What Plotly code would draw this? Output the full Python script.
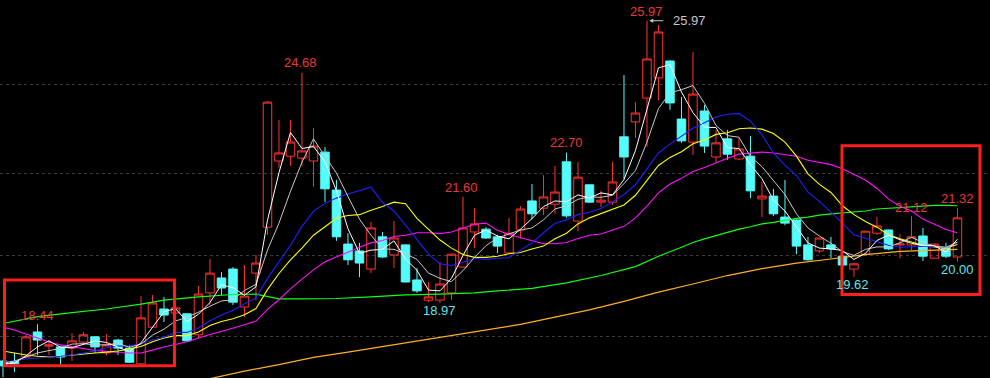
import plotly.graph_objects as go

# ---- data ----
idx = list(range(84))

open_ = [17.53, 17.52, 17.63, 18.25, 17.90, 17.88, 17.85, 18.00, 18.13, 17.73,
         18.05, 17.85, 17.46, 18.37, 18.82, 18.72, 18.70, 18.18, 19.22, 19.59,
         19.81, 18.87, 19.71, 20.85, 22.49, 22.61, 22.56, 22.49, 22.71, 21.77,
         20.43, 20.26, 19.81, 20.61, 20.16, 20.41, 19.54, 19.04, 19.04, 19.22,
         19.86, 20.73, 20.80, 20.61, 20.21, 20.78, 21.50, 21.32, 21.42, 22.47,
         21.00, 21.90, 21.47, 21.47, 23.09, 23.46, 24.05, 24.55, 24.97, 23.53,
         22.96, 23.73, 22.59, 23.04, 22.54, 22.61, 21.55, 21.62, 21.10, 21.03,
         20.41, 20.26, 20.41, 20.13, 19.81, 20.18, 20.70, 20.78, 20.41, 20.41,
         20.63, 20.08, 20.33, 20.11]
high = [17.56, 17.73, 18.18, 18.44, 18.05, 17.90, 18.22, 18.25, 18.15, 18.20,
        18.08, 17.93, 19.14, 19.17, 19.12, 18.89, 18.72, 19.39, 20.06, 19.74,
        19.86, 19.91, 20.16, 23.98, 23.51, 23.51, 24.68, 23.31, 22.84, 22.02,
        20.70, 20.46, 20.98, 20.73, 21.00, 20.42, 19.84, 19.49, 19.99, 20.19,
        21.60, 21.32, 20.85, 20.66, 21.08, 21.37, 21.92, 22.14, 22.37, 22.70,
        22.47, 21.91, 21.75, 22.47, 24.62, 23.95, 25.97, 25.86, 24.99, 24.08,
        25.19, 23.88, 23.26, 23.26, 23.06, 23.11, 21.97, 21.80, 22.02, 21.04,
        20.61, 20.59, 20.61, 20.14, 19.97, 20.76, 21.10, 20.79, 20.68, 21.12,
        20.83, 20.44, 20.46, 21.32]
low = [17.13, 17.26, 17.60, 17.68, 17.68, 17.43, 17.53, 17.93, 17.73, 17.68,
       17.68, 17.48, 17.41, 18.35, 18.50, 18.67, 18.00, 18.10, 18.92, 19.17,
       18.92, 18.62, 19.04, 20.66, 22.32, 22.37, 22.37, 21.85, 21.47, 20.51,
       19.91, 19.61, 19.71, 20.08, 19.84, 19.48, 19.22, 18.99, 18.97, 19.04,
       19.85, 20.33, 20.56, 20.21, 20.19, 20.56, 21.05, 21.15, 21.18, 21.08,
       20.75, 21.45, 21.35, 21.40, 22.04, 23.06, 22.84, 24.00, 23.76, 22.94,
       22.64, 22.69, 22.44, 22.52, 22.52, 21.57, 21.10, 21.13, 20.90, 20.18,
       20.02, 20.21, 20.08, 19.90, 19.62, 20.16, 20.66, 20.28, 20.08, 20.28,
       20.01, 20.07, 20.08, 20.00]
close = [17.41, 17.46, 18.13, 18.05, 17.93, 17.63, 18.03, 18.18, 17.88, 17.93,
         17.85, 17.50, 18.60, 18.97, 18.67, 18.85, 18.03, 19.19, 19.71, 19.34,
         18.99, 19.14, 19.96, 23.95, 22.69, 22.96, 22.74, 22.86, 21.80, 20.61,
         20.04, 19.96, 20.83, 20.11, 20.58, 19.49, 19.27, 19.12, 19.44, 20.18,
         20.83, 20.93, 20.58, 20.38, 20.70, 21.30, 21.18, 21.60, 21.72, 21.13,
         22.09, 21.47, 21.52, 21.97, 22.59, 23.68, 25.02, 25.69, 23.93, 22.99,
         24.15, 22.86, 22.94, 22.66, 22.79, 21.75, 21.62, 21.18, 20.95, 20.38,
         20.04, 20.58, 20.31, 19.91, 19.94, 20.75, 20.88, 20.31, 20.43, 20.61,
         20.13, 20.43, 20.13, 21.08]

ma_white = [17.46, 17.48, 17.66, 17.88, 18.03, 17.87, 17.86, 17.94, 18.03, 17.99,
            17.88, 17.76, 17.98, 18.36, 18.75, 18.83, 18.51, 18.69, 18.98, 19.42,
            19.35, 19.16, 19.37, 21.02, 22.20, 23.20, 22.80, 22.85, 22.47, 21.75,
            20.81, 20.20, 20.28, 20.30, 20.51, 20.06, 19.78, 19.29, 19.27, 19.58,
            20.15, 20.65, 20.78, 20.63, 20.56, 20.80, 21.06, 21.36, 21.50, 21.48,
            21.65, 21.57, 21.70, 21.65, 22.03, 22.75, 23.76, 24.80, 24.88, 24.20,
            23.69, 23.33, 23.32, 22.82, 22.80, 22.40, 22.05, 21.52, 21.25, 20.84,
            20.46, 20.33, 20.31, 20.27, 20.05, 20.20, 20.52, 20.65, 20.54, 20.45,
            20.39, 20.39, 20.23, 20.55]
ma_gray = [17.48, 17.53, 17.63, 17.73, 17.79, 17.84, 17.95, 17.96, 17.93, 17.93,
           17.97, 17.87, 17.95, 18.17, 18.32, 18.52, 18.62, 18.74, 18.89, 19.02,
           19.05, 19.28, 19.43, 20.28, 20.95, 21.74, 22.46, 23.04, 22.61, 22.19,
           21.61, 21.05, 20.65, 20.31, 20.30, 20.19, 20.05, 19.71, 19.58, 19.50,
           19.77, 20.10, 20.39, 20.58, 20.68, 20.78, 20.83, 21.03, 21.30, 21.38,
           21.54, 21.60, 21.59, 21.64, 21.93, 22.25, 22.96, 23.79, 24.18, 24.26,
           24.36, 23.92, 23.37, 23.12, 23.08, 22.60, 22.35, 22.00, 21.66, 21.18,
           20.83, 20.63, 20.45, 20.24, 20.15, 20.30, 20.36, 20.36, 20.46, 20.60,
           20.47, 20.38, 20.35, 20.48]
ma_blue = [17.51, 17.53, 17.58, 17.60, 17.63, 17.65, 17.68, 17.73, 17.78, 17.86,
           17.90, 17.91, 17.96, 18.05, 18.12, 18.24, 18.24, 18.35, 18.53, 18.67,
           18.79, 18.95, 19.09, 19.58, 19.99, 20.40, 20.87, 21.24, 21.44, 21.57,
           21.67, 21.76, 21.84, 21.46, 21.25, 20.90, 20.55, 20.18, 19.94, 19.90,
           19.98, 20.08, 20.05, 20.08, 20.09, 20.27, 20.46, 20.71, 20.94, 21.03,
           21.16, 21.22, 21.31, 21.47, 21.66, 21.90, 22.28, 22.69, 22.91, 23.10,
           23.30, 23.44, 23.58, 23.65, 23.67, 23.48, 23.14, 22.69, 22.39, 22.13,
           21.72, 21.49, 21.23, 20.95, 20.66, 20.57, 20.49, 20.40, 20.35, 20.37,
           20.38, 20.37, 20.35, 20.47]
ma_yellow = [17.78, 17.73, 17.68, 17.65, 17.63, 17.65, 17.68, 17.70, 17.73, 17.75,
             17.78, 17.83, 17.89, 18.01, 18.10, 18.16, 18.16, 18.25, 18.41, 18.51,
             18.58, 18.68, 18.83, 19.30, 19.70, 20.04, 20.33, 20.65, 20.87, 21.07,
             21.14, 21.16, 21.27, 21.36, 21.47, 21.43, 21.07, 20.80, 20.53, 20.33,
             20.17, 20.10, 20.10, 20.13, 20.19, 20.22, 20.31, 20.38, 20.56, 20.70,
             20.93, 21.08, 21.19, 21.28, 21.40, 21.64, 22.00, 22.38, 22.58, 22.72,
             22.92, 23.01, 23.15, 23.19, 23.29, 23.31, 23.28, 23.17, 22.96, 22.61,
             22.17, 21.91, 21.71, 21.38, 21.16, 20.99, 20.85, 20.66, 20.56, 20.48,
             20.40, 20.36, 20.34, 20.42]
ma_magenta = [18.37, 18.30, 18.20, 18.10, 18.00, 17.93, 17.88, 17.83, 17.79, 17.77,
              17.74, 17.73, 17.73, 17.80, 17.88, 17.94, 18.01, 18.10, 18.19, 18.26,
              18.34, 18.43, 18.52, 18.81, 19.05, 19.32, 19.56, 19.79, 19.99, 20.12,
              20.23, 20.35, 20.46, 20.52, 20.62, 20.65, 20.71, 20.71, 20.69, 20.73,
              20.83, 20.92, 20.95, 20.77, 20.67, 20.59, 20.51, 20.44, 20.44, 20.47,
              20.57, 20.65, 20.68, 20.77, 20.87, 21.08, 21.37, 21.70, 21.92, 22.06,
              22.23, 22.33, 22.45, 22.56, 22.66, 22.69, 22.71, 22.69, 22.65, 22.61,
              22.51, 22.46, 22.40, 22.30, 22.17, 22.02, 21.81, 21.55, 21.37, 21.25,
              21.05, 20.93, 20.79, 20.71]
green_idx = [0, 3, 6, 9, 12, 14, 17, 20, 22, 24, 26, 29, 32, 35, 38, 41, 43, 46, 49,
             52, 55, 57, 59, 60, 61, 62, 63, 64, 65, 66, 67, 68, 69, 70, 71, 72, 73,
             74, 75, 76, 77, 78, 79, 80, 81, 82, 83]
ma_green = [18.46, 18.63, 18.73, 18.82, 18.94, 19.04, 19.12, 19.18, 19.19, 19.07,
            19.07, 19.08, 19.12, 19.17, 19.19, 19.22, 19.27, 19.33, 19.47, 19.65,
            19.87, 20.13, 20.35, 20.47, 20.56, 20.64, 20.71, 20.80, 20.86, 20.93,
            20.97, 21.02, 21.07, 21.10, 21.15, 21.18, 21.20, 21.22, 21.25, 21.30,
            21.32, 21.33, 21.35, 21.37, 21.39, 21.39, 21.38]
orange_idx = [17, 21, 24, 27, 30, 33, 36, 39, 42, 45, 48, 51, 54, 57, 60, 63, 66,
              69, 72, 75, 78, 81, 83]
ma_orange = [17.03, 17.28, 17.44, 17.62, 17.75, 17.89, 18.03, 18.16, 18.31, 18.44,
             18.62, 18.80, 19.01, 19.24, 19.44, 19.65, 19.82, 19.96, 20.06, 20.17,
             20.25, 20.28, 20.30]
grid_levels = [18.15, 20.15, 22.19, 24.39]

# price labels: text, candle index, y position, colour key
label_text = ["18.44", "24.68", "25.97", "22.70", "21.60", "18.97", "19.62", "20.00", "21.32", "21.12"]
label_x = [3.0, 25.9, 56.0, 48.96, 39.9, 38.0, 73.9, 82.96, 82.96, 78.96]
label_y = [18.67, 24.93, 26.19, 22.94, 21.83, 18.78, 19.44, 19.80, 21.56, 21.34]
label_kind = ["up", "up", "up", "up", "up", "dn", "dn", "dn", "up", "up"]

# highlight boxes (candle index span, price span)
boxes = [(0.13, 14.91, 17.41, 19.54), (72.96, 84.96, 19.18, 22.87)]

RED = "#ff3232"
CYAN = "#54fcfc"
LBL_RED = "#e83838"
LBL_CYAN = "#5ee6ea"

fig = go.Figure()
fig.add_trace(go.Candlestick(
    x=idx, open=open_, high=high, low=low, close=close,
    increasing=dict(line=dict(color=RED, width=1), fillcolor="rgba(0,0,0,0)"),
    decreasing=dict(line=dict(color=CYAN, width=1), fillcolor=CYAN),
    whiskerwidth=0, hoverinfo="skip", showlegend=False))

def add_line(xs, ys, color, w=1.0):
    fig.add_trace(go.Scatter(x=xs, y=ys, mode="lines", line=dict(color=color, width=w),
                             hoverinfo="skip", showlegend=False))

add_line(orange_idx, ma_orange, "#ffb020", 1.2)
add_line(green_idx, ma_green, "#10ff10", 1.2)
add_line(idx, ma_magenta, "#ff10ff", 1.1)
add_line(idx, ma_yellow, "#ffff00", 1.1)
add_line(idx, ma_blue, "#2020ff", 1.1)
add_line(idx, ma_gray, "#c8c8c8", 1.0)
add_line(idx, ma_white, "#ffffff", 1.0)

for (x0, x1, y0, y1) in boxes:
    fig.add_shape(type="rect", xref="x", yref="y", x0=x0, x1=x1, y0=y0, y1=y1,
                  line=dict(color="#ff1e1e", width=3))

for t, x, y, k in zip(label_text, label_x, label_y, label_kind):
    fig.add_annotation(x=x, y=y, text=t, showarrow=False, xref="x", yref="y",
                       font=dict(family="Liberation Sans, Arial", size=13,
                                 color=LBL_RED if k == "up" else LBL_CYAN))

# grey marker of the highest price with a left arrow
fig.add_annotation(x=56.2, y=25.97, xref="x", yref="y", text="25.97", showarrow=True,
                   ax=40, ay=0, arrowhead=2, arrowsize=0.8, arrowwidth=1,
                   arrowcolor="#c8c8c8", standoff=0, startstandoff=8,
                   font=dict(family="Liberation Sans, Arial", size=13, color="#c8c8c8"))

fig.update_layout(
    width=990, height=378, margin=dict(l=0, r=0, t=0, b=0),
    paper_bgcolor="#000000", plot_bgcolor="#000000",
    boxgap=0.0, boxgroupgap=0.26,
    xaxis=dict(range=[-0.26, 85.83], showgrid=False, zeroline=False,
               showticklabels=False, ticks="", rangeslider=dict(visible=False),
               showline=False, fixedrange=True),
    yaxis=dict(range=[17.109, 26.483], tickvals=grid_levels, showgrid=True,
               gridcolor="#3a3a3a", griddash="dot", gridwidth=1,
               zeroline=False, showticklabels=False, ticks="", showline=False,
               fixedrange=True),
    showlegend=False,
)

fig.write_html("out.html")
